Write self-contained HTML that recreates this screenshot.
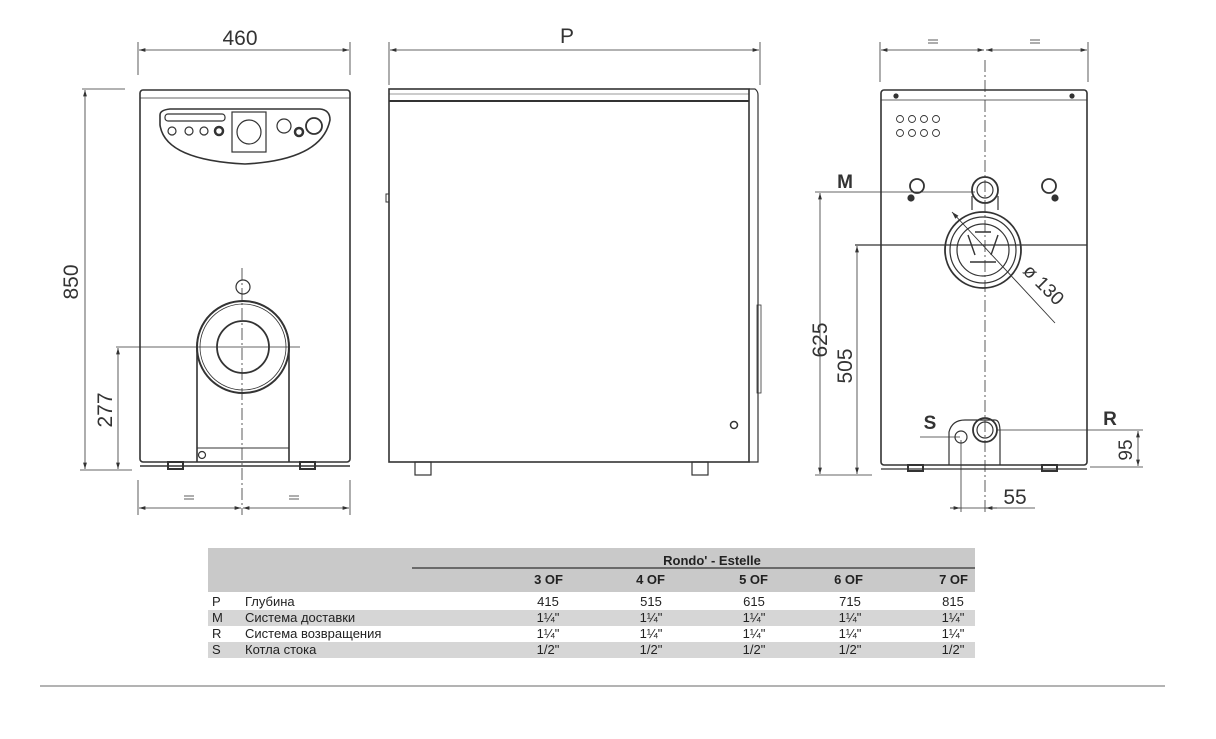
<!DOCTYPE html>
<html><head><meta charset="utf-8"><style>
html,body{margin:0;padding:0;background:#fff;}
svg{display:block;}
text{font-family:"Liberation Sans",sans-serif;fill:#333;}
.t{font-family:"Liberation Sans",sans-serif;font-size:13px;fill:#222;}
</style></head><body>
<svg width="1216" height="739" viewBox="0 0 1216 739" xmlns="http://www.w3.org/2000/svg">
<defs>
<marker id="a" viewBox="0 0 10 10" refX="10" refY="5" markerWidth="8" markerHeight="8" orient="auto-start-reverse"><path d="M0,2 L10,5 L0,8 z" fill="#333"/></marker>
</defs>
<g stroke="#333" fill="none" stroke-width="1.2">
<!-- FRONT VIEW -->
<line x1="138" y1="42" x2="138" y2="75" stroke-width="0.8"/>
<line x1="350" y1="42" x2="350" y2="75" stroke-width="0.8"/>
<line x1="139" y1="50" x2="349" y2="50" marker-start="url(#a)" marker-end="url(#a)" stroke-width="0.8"/>
<line x1="82" y1="89" x2="125" y2="89" stroke-width="0.8"/>
<line x1="85" y1="90" x2="85" y2="469" marker-start="url(#a)" marker-end="url(#a)" stroke-width="0.8"/>
<line x1="80" y1="470" x2="132" y2="470" stroke-width="0.8"/>
<line x1="118" y1="348" x2="118" y2="469" marker-start="url(#a)" marker-end="url(#a)" stroke-width="0.8"/>
<line x1="116" y1="347" x2="300" y2="347" stroke-width="0.8"/>
<rect x="140" y="90" width="210" height="372" rx="3" stroke-width="1.6"/>
<line x1="140" y1="98" x2="350" y2="98" stroke-width="0.8"/>
<line x1="140" y1="466" x2="350" y2="466" stroke-width="1.4"/>
<rect x="168" y="462" width="15" height="7" stroke-width="2"/>
<rect x="300" y="462" width="15" height="7" stroke-width="2"/>
<path d="M160,115 Q160,110 170,109 L320,109 Q330,110 330,120 Q322,160 245,164 Q165,160 160,125 Z" stroke-width="1.6"/>
<rect x="232" y="112" width="34" height="40"/>
<circle cx="249" cy="132" r="12"/>
<rect x="165" y="114" width="60" height="7" rx="3"/>
<circle cx="172" cy="131" r="4"/><circle cx="189" cy="131" r="4"/><circle cx="204" cy="131" r="4"/><circle cx="219" cy="131" r="4" stroke-width="2.5"/>
<circle cx="284" cy="126" r="7"/><circle cx="299" cy="132" r="4" stroke-width="2.5"/><circle cx="314" cy="126" r="8" stroke-width="1.8"/>
<circle cx="243" cy="287" r="7"/>
<path d="M197,462 L197,347 A46,46 0 0 1 289,347 L289,462" stroke-width="1.6"/>
<circle cx="243" cy="347" r="46" stroke-width="2"/>
<circle cx="243" cy="347" r="43" stroke-width="0.8"/>
<circle cx="243" cy="347" r="26" stroke-width="1.8"/>
<line x1="197" y1="448" x2="289" y2="448" stroke-width="1"/>
<circle cx="202" cy="455" r="3.5"/>
<line x1="242" y1="268" x2="242" y2="515" stroke-dasharray="12,3,2,3" stroke-width="0.8"/>
<line x1="138" y1="480" x2="138" y2="515" stroke-width="0.8"/>
<line x1="350" y1="480" x2="350" y2="515" stroke-width="0.8"/>
<line x1="139" y1="508" x2="241" y2="508" marker-start="url(#a)" marker-end="url(#a)" stroke-width="0.8"/>
<line x1="243" y1="508" x2="349" y2="508" marker-start="url(#a)" marker-end="url(#a)" stroke-width="0.8"/>
<line x1="184" y1="496" x2="194" y2="496" stroke-width="0.8"/><line x1="184" y1="499" x2="194" y2="499" stroke-width="0.8"/>
<line x1="289" y1="496" x2="299" y2="496" stroke-width="0.8"/><line x1="289" y1="499" x2="299" y2="499" stroke-width="0.8"/>
<!-- SIDE VIEW -->
<line x1="389" y1="42" x2="389" y2="85" stroke-width="0.8"/>
<line x1="760" y1="42" x2="760" y2="85" stroke-width="0.8"/>
<line x1="390" y1="50" x2="759" y2="50" marker-start="url(#a)" marker-end="url(#a)" stroke-width="0.8"/>
<rect x="389" y="89" width="360" height="373" stroke-width="1.6"/>
<line x1="389" y1="101" x2="749" y2="101" stroke-width="2"/>
<line x1="389" y1="94" x2="749" y2="94" stroke-width="0.6"/>
<path d="M749,89 L755,89 Q758,91 758,95 L758,462 L749,462" stroke-width="1.2"/>
<rect x="757" y="305" width="4" height="88" stroke-width="0.8"/>
<rect x="386" y="194" width="3" height="8" stroke-width="1"/>
<circle cx="734" cy="425" r="3.5" stroke-width="1.5"/>
<rect x="415" y="462" width="16" height="13"/>
<rect x="692" y="462" width="16" height="13"/>
<!-- REAR VIEW -->
<line x1="880" y1="42" x2="880" y2="82" stroke-width="0.8"/>
<line x1="1088" y1="42" x2="1088" y2="82" stroke-width="0.8"/>
<line x1="881" y1="50" x2="984" y2="50" marker-start="url(#a)" marker-end="url(#a)" stroke-width="0.8"/>
<line x1="986" y1="50" x2="1087" y2="50" marker-start="url(#a)" marker-end="url(#a)" stroke-width="0.8"/>
<line x1="928" y1="40" x2="938" y2="40" stroke-width="0.8"/><line x1="928" y1="43" x2="938" y2="43" stroke-width="0.8"/>
<line x1="1030" y1="40" x2="1040" y2="40" stroke-width="0.8"/><line x1="1030" y1="43" x2="1040" y2="43" stroke-width="0.8"/>
<rect x="881" y="90" width="206" height="375" rx="3" stroke-width="1.6"/>
<line x1="881" y1="100" x2="1087" y2="100" stroke-width="0.8"/>
<line x1="881" y1="469" x2="1087" y2="469" stroke-width="1.2"/>
<rect x="908" y="465" width="15" height="6" stroke-width="2"/>
<rect x="1042" y="465" width="15" height="6" stroke-width="2"/>
<circle cx="896" cy="96" r="2" fill="#333"/><circle cx="1072" cy="96" r="2" fill="#333"/>
<g stroke-width="0.9">
<circle cx="900" cy="119" r="3.5"/><circle cx="912" cy="119" r="3.5"/><circle cx="924" cy="119" r="3.5"/><circle cx="936" cy="119" r="3.5"/>
<circle cx="900" cy="133" r="3.5"/><circle cx="912" cy="133" r="3.5"/><circle cx="924" cy="133" r="3.5"/><circle cx="936" cy="133" r="3.5"/>
</g>
<circle cx="917" cy="186" r="7" stroke-width="1.8"/><circle cx="911" cy="198" r="3" fill="#333"/>
<circle cx="1049" cy="186" r="7" stroke-width="1.8"/><circle cx="1055" cy="198" r="3" fill="#333"/>
<circle cx="985" cy="190" r="13" stroke-width="1.8"/><circle cx="985" cy="190" r="8"/>
<line x1="972" y1="196" x2="972" y2="210"/><line x1="998" y1="196" x2="998" y2="210"/>
<line x1="815" y1="192" x2="975" y2="192" stroke-width="0.8"/>
<circle cx="983" cy="250" r="38" stroke-width="1.8"/>
<circle cx="983" cy="250" r="33"/>
<circle cx="983" cy="250" r="26"/>
<path d="M968,235 L975,255 M998,235 L991,255 M970,262 L996,262 M975,232 L991,232" stroke-width="1.4"/>
<line x1="855" y1="245" x2="1087" y2="245" stroke-width="1.2"/>
<line x1="952" y1="212" x2="1055" y2="323" stroke-width="0.9" marker-start="url(#a)"/>
<line x1="985" y1="60" x2="985" y2="512" stroke-dasharray="12,3,2,3" stroke-width="0.8"/>
<line x1="820" y1="193" x2="820" y2="474" marker-start="url(#a)" marker-end="url(#a)" stroke-width="0.8"/>
<line x1="857" y1="246" x2="857" y2="474" marker-start="url(#a)" marker-end="url(#a)" stroke-width="0.8"/>
<line x1="815" y1="475" x2="872" y2="475" stroke-width="0.8"/>
<path d="M949,465 L949,432 Q952,420 965,420 L995,420 Q1000,420 1000,432 L1000,465" stroke-width="1.2"/>
<circle cx="985" cy="430" r="12" stroke-width="1.8"/><circle cx="985" cy="430" r="8"/>
<circle cx="961" cy="437" r="6"/>
<line x1="920" y1="437" x2="960" y2="437" stroke-width="0.8"/>
<line x1="997" y1="430" x2="1143" y2="430" stroke-width="0.8"/>
<line x1="1090" y1="467" x2="1143" y2="467" stroke-width="0.8"/>
<line x1="1138" y1="431" x2="1138" y2="466" marker-start="url(#a)" marker-end="url(#a)" stroke-width="0.8"/>
<line x1="961" y1="440" x2="961" y2="512" stroke-width="0.8"/>
<line x1="950" y1="508" x2="960" y2="508" marker-end="url(#a)" stroke-width="0.8"/>
<line x1="997" y1="508" x2="986" y2="508" marker-end="url(#a)" stroke-width="0.8"/>
<line x1="950" y1="508" x2="1035" y2="508" stroke-width="0.8"/>
</g>
<!-- labels -->
<text x="240" y="45" font-size="21" text-anchor="middle">460</text>
<text x="567" y="43" font-size="21" text-anchor="middle">P</text>
<text transform="translate(78,282) rotate(-90)" font-size="21" text-anchor="middle">850</text>
<text transform="translate(112,410) rotate(-90)" font-size="21" text-anchor="middle">277</text>
<text x="845" y="188" font-size="19" font-weight="bold" text-anchor="middle">M</text>
<text transform="translate(827,340) rotate(-90)" font-size="21" text-anchor="middle">625</text>
<text transform="translate(852,366) rotate(-90)" font-size="21" text-anchor="middle">505</text>
<text transform="translate(1022,272) rotate(45)" font-size="19">ø 130</text>
<text x="930" y="429" font-size="19" font-weight="bold" text-anchor="middle">S</text>
<text x="1110" y="425" font-size="19" font-weight="bold" text-anchor="middle">R</text>
<text transform="translate(1132,450) rotate(-90)" font-size="19" text-anchor="middle">95</text>
<text x="1015" y="504" font-size="21" text-anchor="middle">55</text>
<!-- TABLE -->
<rect x="208" y="548" width="767" height="44" fill="#c9c9c9"/>
<rect x="208" y="610" width="767" height="16" fill="#d6d6d6"/>
<rect x="208" y="642" width="767" height="16" fill="#d6d6d6"/>
<line x1="412" y1="568" x2="975" y2="568" stroke="#333" stroke-width="1.2"/>
<text x="712" y="565" class="t" font-weight="bold" text-anchor="middle">Rondo' - Estelle</text>
<g class="t" font-weight="bold" text-anchor="end">
<text x="563" y="584" class="t" font-weight="bold">3 OF</text><text x="665" y="584" class="t" font-weight="bold">4 OF</text><text x="768" y="584" class="t" font-weight="bold">5 OF</text><text x="863" y="584" class="t" font-weight="bold">6 OF</text><text x="968" y="584" class="t" font-weight="bold">7 OF</text>
</g>
<g>
<text x="212" y="606" class="t">P</text><text x="245" y="606" class="t">Глубина</text>
<text x="212" y="622" class="t">M</text><text x="245" y="622" class="t">Система доставки</text>
<text x="212" y="638" class="t">R</text><text x="245" y="638" class="t">Система возвращения</text>
<text x="212" y="654" class="t">S</text><text x="245" y="654" class="t">Котла стока</text>
</g>
<g text-anchor="middle">
<text x="548" y="606" class="t">415</text><text x="651" y="606" class="t">515</text><text x="754" y="606" class="t">615</text><text x="850" y="606" class="t">715</text><text x="953" y="606" class="t">815</text>
<text x="548" y="622" class="t">1¼"</text><text x="651" y="622" class="t">1¼"</text><text x="754" y="622" class="t">1¼"</text><text x="850" y="622" class="t">1¼"</text><text x="953" y="622" class="t">1¼"</text>
<text x="548" y="638" class="t">1¼"</text><text x="651" y="638" class="t">1¼"</text><text x="754" y="638" class="t">1¼"</text><text x="850" y="638" class="t">1¼"</text><text x="953" y="638" class="t">1¼"</text>
<text x="548" y="654" class="t">1/2"</text><text x="651" y="654" class="t">1/2"</text><text x="754" y="654" class="t">1/2"</text><text x="850" y="654" class="t">1/2"</text><text x="953" y="654" class="t">1/2"</text>
</g>
<line x1="40" y1="686" x2="1165" y2="686" stroke="#9a9a9a" stroke-width="1.5"/>
</svg>
</body></html>
